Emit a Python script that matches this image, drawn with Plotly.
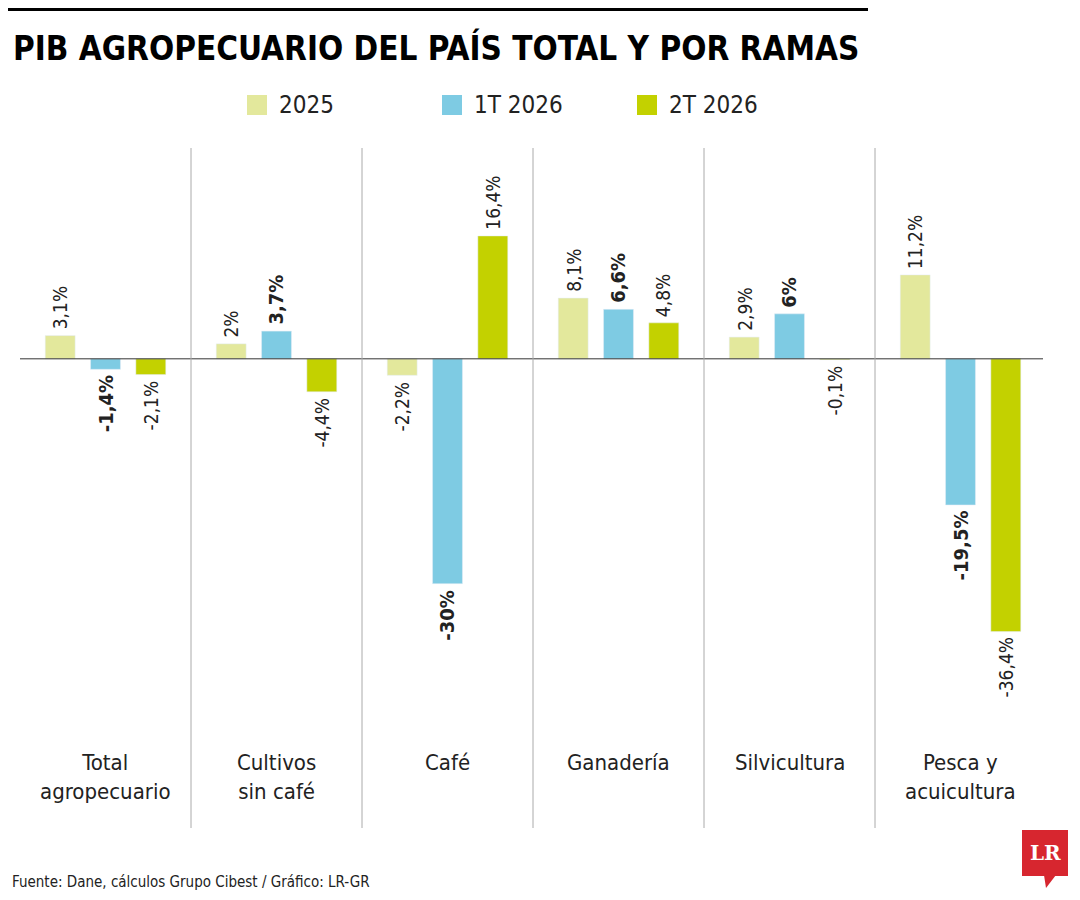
import plotly.graph_objects as go

categories = ["Total<br>agropecuario", "Cultivos<br>sin café", "Café", "Ganadería", "Silvicultura", "Pesca y<br>acuicultura"]
series_names = ["2025", "1T 2026", "2T 2026"]
v2025 = [3.1, 2.0, -2.2, 8.1, 2.9, 11.2]
v1t = [-1.4, 3.7, -30.0, 6.6, 6.0, -19.5]
v2t = [-2.1, -4.4, 16.4, 4.8, -0.1, -36.4]
colors = ["#e3e89c", "#7ecbe3", "#c3d100"]
FONT = "DejaVu Sans Condensed, Liberation Sans, sans-serif"

W, H = 1080, 900
OX, OY = 8, 8  # page margin of the browser


def px(x):
    return (x - OX) / W


def py(y):
    return 1 - (y - OY) / H


fig = go.Figure()
offsets = [-0.265, 0.0, 0.265]
for vals, name, col, off in zip([v2025, v1t, v2t], series_names, colors, offsets):
    fig.add_bar(x=[i + off for i in range(6)], y=vals, width=0.175, marker_color=col,
                name=name, showlegend=False)


def fmt(v):
    return ("%g" % v).replace(".", ",") + "%"


for k, (vals, off) in enumerate(zip([v2025, v1t, v2t], offsets)):
    for i, v in enumerate(vals):
        txt = fmt(v)
        if k == 1:
            txt = "<b>" + txt + "</b>"
        fig.add_annotation(x=i + off, y=v, text=txt, textangle=-90, showarrow=False,
                           xanchor="center", yanchor="bottom" if v >= 0 else "top",
                           yshift=4 if v >= 0 else -4,
                           font=dict(family=FONT, size=20 if k == 1 else 19, color="#222"))

fig.add_shape(type="line", xref="paper", yref="y", x0=px(20), x1=px(1043), y0=0, y1=0,
              line=dict(color="#333", width=1))
for i in range(5):
    fig.add_shape(type="line", xref="x", yref="paper", x0=i + 0.5, x1=i + 0.5,
                  y0=py(828), y1=py(148), line=dict(color="#aaa", width=1))
for i, c in enumerate(categories):
    fig.add_annotation(x=i, y=py(748), yref="paper", text=c, showarrow=False,
                       yanchor="top", font=dict(family=FONT, size=22, color="#222"))

fig.add_shape(type="rect", xref="paper", yref="paper", x0=0, x1=px(868),
              y0=py(11), y1=py(3), fillcolor="black", line_width=0)
fig.add_annotation(x=px(11), y=py(48), xref="paper", yref="paper", xanchor="left",
                   yanchor="middle", showarrow=False,
                   text="<b>PIB AGROPECUARIO DEL PAÍS TOTAL Y POR RAMAS</b>",
                   font=dict(family=FONT, size=33, color="black"))
for name, col, lx in zip(series_names, colors, [247, 442, 637]):
    fig.add_shape(type="rect", xref="paper", yref="paper", x0=px(lx), x1=px(lx + 20),
                  y0=py(115), y1=py(95), fillcolor=col, line_width=0)
    fig.add_annotation(x=px(lx + 30), y=py(105), xref="paper", yref="paper",
                       xanchor="left", yanchor="middle", showarrow=False, text=name,
                       font=dict(family=FONT, size=24, color="#222"))
fig.add_annotation(x=px(10), y=py(882), xref="paper", yref="paper", xanchor="left",
                   yanchor="middle", showarrow=False,
                   text="Fuente: Dane, cálculos Grupo Cibest / Gráfico: LR-GR",
                   font=dict(family=FONT, size=15, color="#222"))
fig.add_shape(type="rect", xref="paper", yref="paper", x0=px(1022), x1=px(1068),
              y0=py(876), y1=py(830), fillcolor="#d7262f", line_width=0, layer="below")
fig.add_shape(type="path", xref="paper", yref="paper",
              path="M %f %f L %f %f L %f %f Z" % (px(1044), py(875), px(1056), py(875),
                                                  px(1046), py(888)),
              fillcolor="#d7262f", line_width=0, layer="below")
fig.add_annotation(x=px(1045), y=py(853), xref="paper", yref="paper", showarrow=False,
                   xanchor="center", yanchor="middle",
                   text="<b>LR</b>", font=dict(family="DejaVu Serif", size=20, color="white"))

fig.update_layout(width=W, height=H, margin=dict(l=0, r=0, t=0, b=0),
                  plot_bgcolor="rgba(0,0,0,0)", paper_bgcolor="white", barmode="overlay",
                  xaxis=dict(domain=[px(20), px(1046)], range=[-0.5, 5.5], visible=False),
                  yaxis=dict(domain=[py(771), py(134)], range=[-55, 30], visible=False))
fig.write_html("out.html")
